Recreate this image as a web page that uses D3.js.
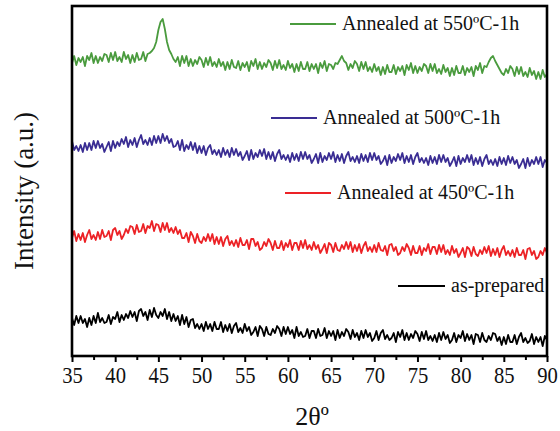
<!DOCTYPE html>
<html>
<head>
<meta charset="utf-8">
<script src="https://d3js.org/d3.v7.min.js"></script>
<style>
  body { margin: 0; background: #fff; }
  svg { display: block; }
  svg text { font-family: "Liberation Serif", "Times New Roman", serif; }
</style>
</head>
<body>
<div id="chart"></div>
<script>
// 2theta grid: 35 to 90 deg, 0.25 deg step
var thetaStart = 35, thetaStep = 0.25;
var xTicks = [35, 40, 45, 50, 55, 60, 65, 70, 75, 80, 85, 90];

// one row of four values per degree
var asPrepared = [
 38,31,40,33, 40,33,37,29, 38,31,40,33, 43,34,38,33, 34,41,32,39,
 37,44,34,41, 36,42,38,45, 39,44,35,45, 47,40,44,36, 46,39,48,41,
 38,44,40,47, 37,44,35,42, 35,40,31,41, 32,39,29,36, 37,28,32,27,
 32,25,34,27, 32,25,34,27, 27,34,24,31, 25,32,23,30, 33,24,28,23,
 32,25,29,21, 24,29,20,30, 27,20,29,22, 21,27,23,30, 27,20,29,22,
 29,22,26,18, 29,20,24,19, 20,27,18,25, 25,18,27,20, 21,28,18,25,
 20,25,16,26, 18,24,20,27, 24,17,26,19, 23,16,25,18, 26,19,23,15,
 18,25,16,23, 26,17,21,16, 18,23,14,24, 19,26,16,23, 16,22,18,25,
 22,15,24,17, 25,16,20,15, 21,14,23,16, 24,17,21,13, 16,23,14,21,
 18,25,15,22, 16,21,12,22, 21,14,23,16, 14,20,16,23, 22,15,19,11,
 19,12,21,14, 14,21,12,19, 23,14,18,13, 15,22,12,19, 14,19,10,20,
 16];

var ann450 = [
 118,125,115,122, 116,123,114,121, 126,117,121,116, 124,117,126,119, 120,125,116,126,
 128,121,125,117, 121,127,123,130, 129,122,131,124, 125,132,123,130, 128,135,125,132,
 131,124,133,126, 133,124,128,123, 129,122,126,118, 118,123,114,124, 120,113,122,115,
 113,119,115,122, 115,122,112,119, 112,119,110,117, 120,111,115,110, 116,109,118,111,
 111,116,107,117, 117,110,114,106, 108,114,110,117, 113,106,115,108, 108,115,106,113,
 109,116,106,113, 113,106,115,108, 116,107,111,106, 114,107,111,103, 107,112,103,113,
 111,104,113,106, 105,111,107,114, 107,114,104,111, 105,112,103,110, 114,105,109,104,
 111,104,113,106, 105,110,101,111, 112,105,109,101, 103,109,105,112, 108,101,110,103,
 103,110,101,108, 105,112,102,109, 109,102,111,104, 111,102,106,101, 110,103,107,99,
 103,108,99,109, 107,100,109,102, 100,106,102,109, 103,110,100,107, 101,108,99,106,
 110,101,105,100, 106,99,108,101, 101,106,97,107, 108,101,105,97, 99,105,101,108,
 103];

var ann500 = [
 215,206,210,205, 211,204,213,206, 213,206,215,208, 215,208,212,204, 209,214,205,215,
 208,214,210,217, 212,219,209,216, 211,218,209,216, 221,212,216,211, 218,211,220,213,
 220,213,222,215, 220,213,217,209, 210,215,206,216, 205,211,207,214, 206,213,203,210,
 203,210,201,208, 211,202,206,201, 206,199,208,201, 206,199,208,201, 207,200,204,196,
 200,205,196,206, 197,203,199,206, 200,207,197,204, 197,204,195,202, 206,197,201,196,
 201,194,203,196, 202,195,204,197, 204,197,201,193, 197,202,193,203, 194,200,196,203,
 197,204,194,201, 195,202,193,200, 204,195,199,194, 200,193,202,195, 201,194,203,196,
 203,196,200,192, 195,200,191,201, 193,199,195,202, 196,203,193,200, 194,201,192,199,
 203,194,198,193, 198,191,200,193, 199,192,201,194, 201,194,198,190, 194,199,190,200,
 192,198,194,201, 194,201,191,198, 192,199,190,197, 201,192,196,191, 197,190,199,192,
 198,191,200,193, 199,192,196,188, 192,197,188,198, 190,196,192,199, 192,199,189,196,
 193];

var ann550 = [
 293,300,291,298, 294,299,290,300, 296,303,293,300, 293,299,295,302, 301,294,303,296,
 304,295,299,294, 304,297,301,293, 301,294,303,296, 297,304,295,302, 303,305,308,314,
 326,334,337,327, 314,306,302,297, 294,299,290,300, 293,300,290,297, 290,296,292,299,
 296,289,298,291, 299,290,294,289, 297,290,294,286, 294,287,296,289, 288,295,286,293,
 289,294,285,295, 290,297,287,294, 287,293,289,296, 293,286,295,288, 296,287,291,286,
 295,288,292,284, 292,285,294,287, 287,294,285,292, 287,292,283,293, 288,295,285,292,
 291,287,293,292, 296,300,295,293, 286,292,288,295, 292,285,294,287, 294,285,289,284,
 292,285,289,281, 289,282,291,284, 284,291,282,289, 285,290,281,291, 286,293,283,290,
 283,289,285,292, 290,283,292,285, 292,283,287,282, 291,284,288,280, 288,281,290,283,
 283,290,281,288, 284,289,280,290, 286,293,283,290, 289,294,298,300, 295,291,287,283,
 281,287,283,290, 287,280,289,282, 289,280,284,279, 288,281,285,277, 284,277,286,279,
 282];

var seriesNames = ["as-prepared", "Annealed at 450ºC-1h", "Annealed at 500ºC-1h", "Annealed at 550ºC-1h"];
var seriesData = [asPrepared, ann450, ann500, ann550];
var seriesColors = ["#000000", "#ec2226", "#3a2d93", "#4a9b3e"];

var W = 560, H = 431;
var mLeft = 72, mRight = 547, mTop = 6, mBottom = 356;
var serif = "'Liberation Serif', 'Times New Roman', serif";

var svg = d3.select("#chart").append("svg")
    .attr("width", W)
    .attr("height", H);

var x = d3.scaleLinear().domain([35, 90]).range([mLeft, mRight]);
var y = d3.scaleLinear().domain([0, 350]).range([mBottom, mTop]);

var line = d3.line()
    .x(function(d, i){ return x(thetaStart + i * thetaStep); })
    .y(function(d){ return y(d); });

svg.append("defs").append("clipPath").attr("id", "clip")
  .append("rect").attr("x", mLeft).attr("y", mTop)
  .attr("width", mRight - mLeft).attr("height", mBottom - mTop);

svg.append("g").attr("clip-path", "url(#clip)")
  .selectAll("path")
  .data(seriesData)
  .enter().append("path")
    .attr("d", line)
    .attr("fill", "none")
    .attr("stroke", function(d, i){ return seriesColors[i]; })
    .attr("stroke-width", 1.8)
    .attr("stroke-linejoin", "round");

// minor ticks
svg.append("g")
    .attr("transform", "translate(0," + mBottom + ")")
    .call(d3.axisBottom(x).tickValues(d3.range(37.5, 90, 5)).tickSize(4).tickFormat(""))
    .call(function(g){ g.select(".domain").remove(); })
    .selectAll("line").attr("stroke-width", 2);

// major ticks + labels
var xAxis = svg.append("g")
    .attr("transform", "translate(0," + mBottom + ")")
    .call(d3.axisBottom(x).tickValues(xTicks).tickSize(6).tickPadding(4).tickFormat(d3.format("d")));
xAxis.select(".domain").remove();
xAxis.selectAll("line").attr("stroke-width", 2);
xAxis.selectAll("text")
    .style("font-family", serif)
    .style("font-size", "24px")
    .attr("fill", "#111")
    .attr("transform", "scale(0.86,1)");

// frame
svg.append("rect")
    .attr("x", mLeft).attr("y", mTop)
    .attr("width", mRight - mLeft).attr("height", mBottom - mTop)
    .attr("fill", "none")
    .attr("stroke", "#000")
    .attr("stroke-width", 2.6);

// legend
var legendPos = [
  {x1: 398, x2: 445, y: 286},
  {x1: 285, x2: 331, y: 193},
  {x1: 271, x2: 317, y: 118},
  {x1: 290, x2: 336, y: 24}
];
var lg = svg.selectAll(".leg")
    .data(seriesNames)
    .enter().append("g").attr("class", "leg");
lg.append("line")
    .attr("x1", function(d, i){ return legendPos[i].x1; })
    .attr("x2", function(d, i){ return legendPos[i].x2; })
    .attr("y1", function(d, i){ return legendPos[i].y; })
    .attr("y2", function(d, i){ return legendPos[i].y; })
    .attr("stroke", function(d, i){ return seriesColors[i]; })
    .attr("stroke-width", 2);
lg.append("text")
    .attr("x", function(d, i){ return legendPos[i].x2 + 6; })
    .attr("y", function(d, i){ return legendPos[i].y + 6; })
    .style("font-family", serif)
    .style("font-size", "20px")
    .attr("fill", "#111")
    .text(function(d){ return d; });

// axis titles
svg.append("text")
    .attr("x", 312).attr("y", 425)
    .attr("text-anchor", "middle")
    .style("font-family", serif)
    .style("font-size", "26px")
    .attr("fill", "#111")
    .text("2θº");

svg.append("text")
    .attr("transform", "translate(33,191) rotate(-90)")
    .attr("text-anchor", "middle")
    .style("font-family", serif)
    .style("font-size", "27px")
    .attr("fill", "#111")
    .text("Intensity (a.u.)");
</script>
</body>
</html>
